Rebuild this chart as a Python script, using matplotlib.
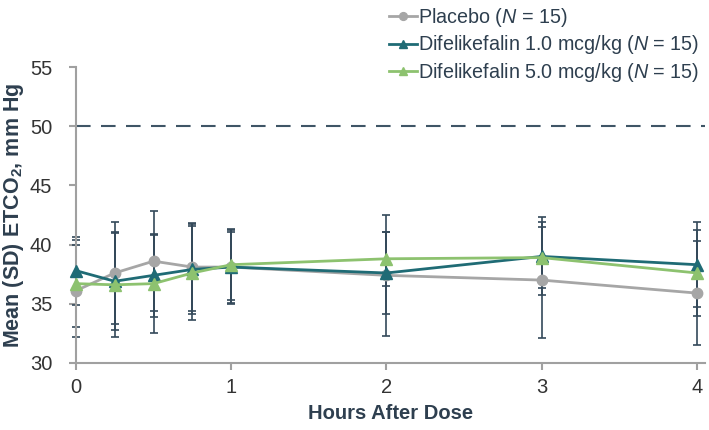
import matplotlib
matplotlib.use("Agg")
import matplotlib.pyplot as plt

plt.rcParams['font.family'] = ['Liberation Sans', 'DejaVu Sans']
plt.rcParams['mathtext.fontset'] = 'custom'
plt.rcParams['mathtext.rm'] = 'Liberation Sans'
plt.rcParams['mathtext.it'] = 'Liberation Sans:italic'
plt.rcParams['mathtext.bf'] = 'Liberation Sans:bold'

hours = [0, 0.25, 0.5, 0.75, 1, 2, 3, 4]

placebo_mean = [36.1, 37.6, 38.6, 38.1, 38.1, 37.4, 37.0, 35.9]
placebo_sd = [3.9, 4.3, 4.25, 3.75, 3.1, 5.1, 4.9, 4.4]

d1_mean = [37.8, 36.9, 37.4, 37.9, 38.1, 37.6, 39.0, 38.3]
d1_sd = [2.87, 4.15, 3.5, 3.8, 3.0, 3.5, 3.3, 3.6]

d5_mean = [36.7, 36.6, 36.7, 37.6, 38.3, 38.8, 38.9, 37.6]
d5_sd = [3.7, 4.4, 4.15, 4.0, 3.0, 2.3, 2.6, 3.6]

labels = ["Placebo ($\\it{N}$ = 15)",
          "Difelikefalin 1.0 mcg/kg ($\\it{N}$ = 15)",
          "Difelikefalin 5.0 mcg/kg ($\\it{N}$ = 15)"]
threshold = 50

c_pl = '#a6a6a6'
c_d1 = '#1f6b75'
c_d5 = '#8dc26f'
c_err = '#34495a'
c_text = '#2e3f4f'
c_axis = '#a0a0a0'

fig = plt.figure(figsize=(7.09, 4.30), dpi=100)
ax = fig.add_axes([0.107, 0.156, 0.887, 0.688])

ax.axhline(threshold, color='#3f5566', lw=1.5, dashes=(7, 5), zorder=1)

for m, s in [(placebo_mean, placebo_sd), (d1_mean, d1_sd), (d5_mean, d5_sd)]:
    _, caps, bars = ax.errorbar(hours, m, yerr=s, fmt='none', ecolor=c_err, elinewidth=1.2,
                                capsize=3, capthick=1.2, zorder=2)
    for c in caps:
        c.set_clip_on(False)
    for b in bars:
        b.set_clip_on(False)

ax.plot(hours, placebo_mean, color=c_pl, marker='o', ms=7.5, lw=2, label=labels[0], zorder=3, clip_on=False)
ax.plot(hours, d1_mean, color=c_d1, marker='^', ms=8, lw=2, label=labels[1], zorder=4, clip_on=False)
ax.plot(hours, d5_mean, color=c_d5, marker='^', ms=8, lw=2, label=labels[2], zorder=5, clip_on=False)

ax.set_xlim(0, 4.05)
ax.set_ylim(30, 55)
ax.set_xticks([0, 1, 2, 3, 4])
ax.set_yticks([30, 35, 40, 45, 50, 55])

for sp in ['top', 'right']:
    ax.spines[sp].set_visible(False)
for sp in ['left', 'bottom']:
    ax.spines[sp].set_color(c_axis)
    ax.spines[sp].set_linewidth(1.5)
ax.tick_params(axis='both', colors=c_axis, width=1.5, length=5, labelsize=14.5,
               labelcolor='#333333')
ax.tick_params(axis='x', pad=6)
ax.tick_params(axis='y', pad=12)

ax.set_xlabel('Hours After Dose', fontsize=14.5, fontweight='bold', color=c_text, labelpad=5)
ax.set_ylabel('Mean (SD) ETCO$_\\mathbf{2}$, mm Hg', fontsize=15.5, fontweight='bold',
              color=c_text)
ax.yaxis.set_label_coords(-0.08, 0.5)

leg = fig.legend(loc='upper right', bbox_to_anchor=(1.005, 1.017), frameon=False,
                 fontsize=14.2, handlelength=1.4, handletextpad=0.1, labelspacing=0.25,
                 borderpad=0.15, markerscale=0.75)
for t in leg.get_texts():
    t.set_color(c_text)

fig.savefig('out.png', dpi=100)
